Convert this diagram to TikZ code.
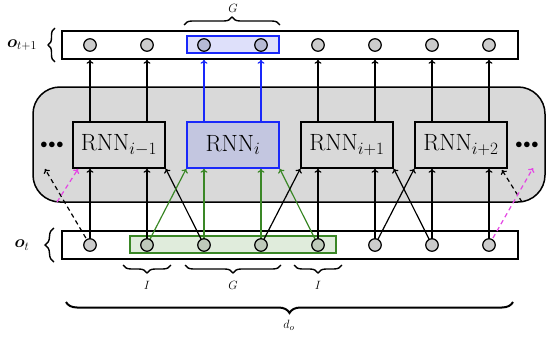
\documentclass[tikz,border=0pt]{standalone}
\usepackage{bm}
\usetikzlibrary{decorations.pathreplacing,arrows.meta}
\definecolor{contgray}{RGB}{217,217,217}
\definecolor{circgray}{RGB}{204,204,204}
\definecolor{myblue}{RGB}{25,40,250}
\definecolor{bluefill}{RGB}{195,198,224}
\definecolor{bluehl}{RGB}{222,224,250}
\definecolor{bluecirc}{RGB}{182,186,212}
\definecolor{mygreen}{RGB}{58,135,38}
\definecolor{greenhl}{RGB}{224,236,220}
\definecolor{greencirc}{RGB}{190,202,186}
\definecolor{mymag}{RGB}{228,70,228}
\begin{document}
\begin{tikzpicture}[x=1pt,y=-1pt,
  >={To[length=4pt,width=7pt]},
  arr/.style={->,line width=1.2pt},
  barr/.style={arr,draw=myblue},
  garr/.style={arr,draw=mygreen},
  darr/.style={arr,dash pattern=on 4.5pt off 3.5pt},
  marr/.style={arr,draw=mymag,dash pattern=on 4.5pt off 3.5pt},
  rowbox/.style={draw,line width=1.5pt,fill=white,minimum width=456pt,minimum height=28pt,inner sep=0pt},
  circ/.style={circle,draw,line width=1.2pt,fill=circgray,minimum size=12.5pt,inner sep=0pt},
  rnn/.style={draw,line width=1.5pt,fill=contgray,minimum width=92pt,minimum height=46pt,inner sep=0pt,font=\fontsize{23.5}{27}\selectfont},
  lab/.style={font=\fontsize{12.5}{14}\selectfont,inner sep=0pt},
  br/.style={decorate,line width=1.4pt},
]
\useasboundingbox (0,0) rectangle (546,337);
% container
\node[draw,line width=1.5pt,fill=contgray,rounded corners=27pt,minimum width=512pt,minimum height=115pt,inner sep=0pt] (cont) at (289,144.5) {};
% rows
\node[rowbox] (top) at (290,45) {};
\node[rowbox] (bot) at (290,245) {};
\node[draw=myblue,line width=1.3pt,fill=bluehl,minimum width=92pt,minimum height=17pt,inner sep=0pt] (hl) at (233,44.5) {};
\node[draw=mygreen,line width=1.3pt,fill=greenhl,minimum width=206pt,minimum height=17pt,inner sep=0pt] (gl) at (233,244.5) {};
% RNN boxes
\node[rnn] (r1) at (119,145) {RNN$_{i-1}$};
\node[rnn,draw=myblue,fill=bluefill] (r2) at (233,145) {RNN$_{i}$};
\node[rnn] (r3) at (347,145) {RNN$_{i+1}$};
\node[rnn] (r4) at (461,145) {RNN$_{i+2}$};
\node[font=\fontsize{15}{15}\selectfont,inner sep=0pt] (dl) at (52,145) {$\bullet\!\bullet\!\bullet$};
\node[font=\fontsize{15}{15}\selectfont,inner sep=0pt] (dr) at (527,145) {$\bullet\!\bullet\!\bullet$};
% circle coordinates
\foreach \k/\x in {1/90,2/147,3/204,4/261,5/318,6/375,7/432,8/489}{
  \coordinate (t\k) at (\x,45);
  \coordinate (b\k) at (\x,245);
}
% outputs
\draw[arr] (r1.north -| t1) -- (t1 |- top.south);
\draw[arr] (r1.north -| t2) -- (t2 |- top.south);
\draw[barr] (r2.north -| t3) -- (t3 |- top.south);
\draw[barr] (r2.north -| t4) -- (t4 |- top.south);
\draw[arr] (r3.north -| t5) -- (t5 |- top.south);
\draw[arr] (r3.north -| t6) -- (t6 |- top.south);
\draw[arr] (r4.north -| t7) -- (t7 |- top.south);
\draw[arr] (r4.north -| t8) -- (t8 |- top.south);
% inputs
\coordinate (dl1) at (45,169);
\coordinate (ml0) at (57,202);
\coordinate (ml1) at (78,169);
\coordinate (dr0) at (522,202);
\coordinate (dr1) at (502,170);
\coordinate (mr1) at (533,168);
\draw[darr] (b1) -- (dl1);
\draw[marr] (ml0) -- (ml1);
\draw[arr] (b1) -- (b1 |- r1.south);
\draw[arr] (b2) -- (b2 |- r1.south);
\draw[arr] (b3) -- (r1.south east);
\draw[garr] (b2) -- (r2.south west);
\draw[garr] (b3) -- (b3 |- r2.south);
\draw[garr] (b4) -- (b4 |- r2.south);
\draw[garr] (b5) -- (r2.south east);
\draw[arr] (b4) -- (r3.south west);
\draw[arr] (b5) -- (b5 |- r3.south);
\draw[arr] (b6) -- (b6 |- r3.south);
\draw[arr] (b7) -- (r3.south east);
\draw[arr] (b6) -- (r4.south west);
\draw[arr] (b7) -- (b7 |- r4.south);
\draw[arr] (b8) -- (b8 |- r4.south);
\draw[darr] (dr0) -- (dr1);
\draw[marr] (b8) -- (mr1);
% circles
\foreach \k in {1,2,5,6,7,8}{ \node[circ] (ct\k) at (t\k) {}; }
\foreach \k in {3,4}{ \node[circ,fill=bluecirc] (ct\k) at (t\k) {}; }
\foreach \k in {1,6,7,8}{ \node[circ] (cb\k) at (b\k) {}; }
\foreach \k in {2,3,4,5}{ \node[circ,fill=greencirc] (cb\k) at (b\k) {}; }
% labels and braces
\node[font=\fontsize{17}{19}\selectfont,inner sep=0pt] (lo1) at (22,45) {$\bm{o}_{t+1}$};
\node[font=\fontsize{17}{19}\selectfont,inner sep=0pt] (lo0) at (22,245) {$\bm{o}_{t}$};
\draw[br,decoration={brace,amplitude=7pt}] (55,62) -- (55,28);
\draw[br,decoration={brace,amplitude=9pt}] (54,262) -- (54,228);
\draw[br,decoration={brace,amplitude=8pt}] (184,25) -- (280,25);
\node[lab] (lgt) at (233,8) {$G$};
\draw[br,decoration={brace,amplitude=8pt}] (171,265) -- (123,265);
\draw[br,decoration={brace,amplitude=8pt}] (281,265) -- (185,265);
\draw[br,decoration={brace,amplitude=8pt}] (342,265) -- (294,265);
\node[lab] (li1) at (147,285) {$I$};
\node[lab] (lgb) at (233,285) {$G$};
\node[lab] (li2) at (318,285) {$I$};
\draw[br,line width=2pt,decoration={brace,amplitude=11pt}] (513,302) -- (66,302);
\node[lab] (ld) at (289,325) {$d_o$};
\end{tikzpicture}
\end{document}
